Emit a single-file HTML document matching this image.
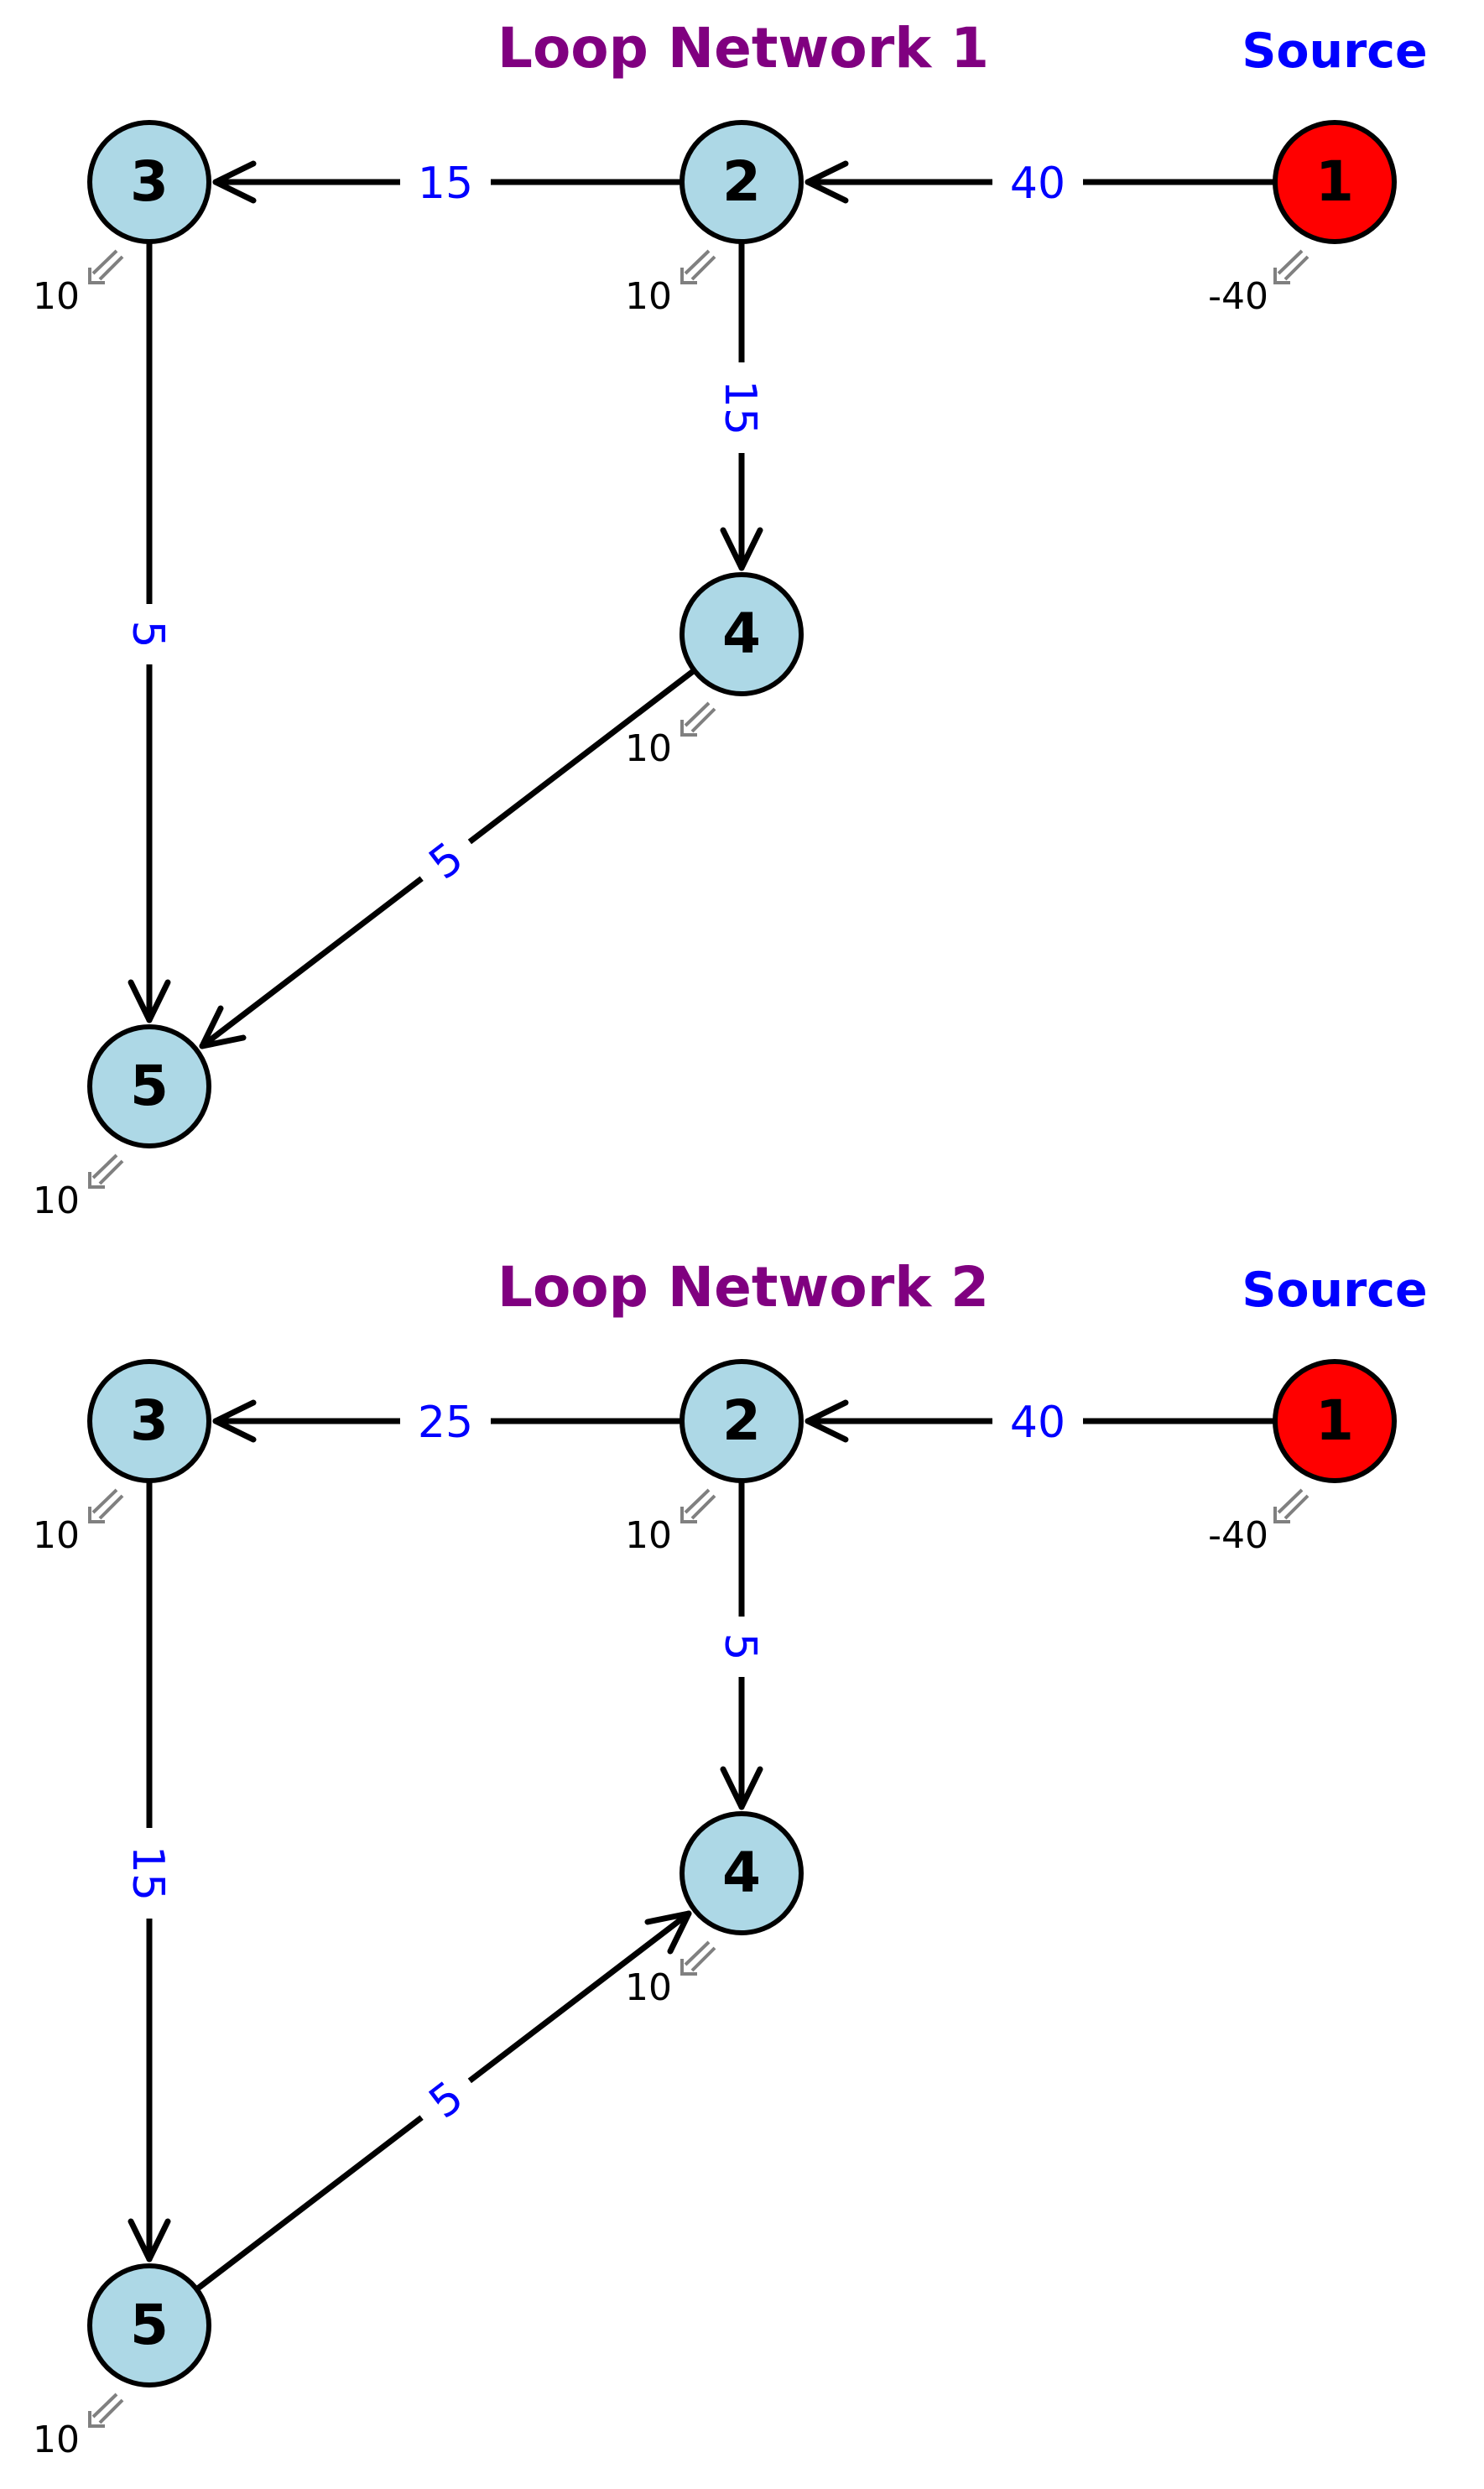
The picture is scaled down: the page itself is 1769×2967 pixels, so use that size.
<!DOCTYPE html>
<html><head><meta charset="utf-8"><style>html,body{margin:0;padding:0;background:#fff}svg{display:block}</style></head>
<body>
<svg width="1769" height="2967" viewBox="0 0 1769 2967" xmlns="http://www.w3.org/2000/svg" font-family="DejaVu Sans, Liberation Sans, sans-serif">
<defs>
<g id="sup" stroke="#808080" stroke-width="4" fill="none">
<line x1="-39" y1="82" x2="-67" y2="109"/>
<line x1="-32" y1="89" x2="-59" y2="116"/>
<polyline points="-71,102 -71,120 -53,120"/>
</g>
<g id="net">
<g stroke="#000" stroke-width="6">
<circle cx="178" cy="217" r="71" fill="#add8e6"/>
<circle cx="884" cy="217" r="71" fill="#add8e6"/>
<circle cx="1591" cy="217" r="71" fill="#ff0000"/>
<circle cx="884" cy="756" r="71" fill="#add8e6"/>
<circle cx="178" cy="1295" r="71" fill="#add8e6"/>
</g>
<g font-size="66" font-weight="bold" text-anchor="middle" fill="#000">
<text x="178" y="239">3</text><text x="884" y="239">2</text><text x="1591" y="239">1</text>
<text x="884" y="778">4</text><text x="178" y="1317">5</text>
</g>
<use href="#sup" x="178" y="217"/><use href="#sup" x="884" y="217"/><use href="#sup" x="1591" y="217"/>
<use href="#sup" x="884" y="756"/><use href="#sup" x="178" y="1295"/>
<g font-size="44" text-anchor="end" fill="#000">
<text x="95" y="368">10</text><text x="801" y="368">10</text><text x="1512" y="368">-40</text>
<text x="801" y="907">10</text><text x="95" y="1446">10</text>
</g>
<text x="1591" y="80" font-size="57" font-weight="bold" fill="#0000ff" text-anchor="middle">Source</text>
</g>
</defs>

<g>
<g stroke="#000" stroke-width="7" fill="none" stroke-linecap="round" stroke-linejoin="round">
<line x1="1591" y1="217" x2="963" y2="217"/><polyline points="1008,195 963,217 1008,239"/>
<line x1="884" y1="217" x2="257" y2="217"/><polyline points="302,195 257,217 302,239"/>
<line x1="884" y1="217" x2="884" y2="677"/><polyline points="862,632 884,677 906,632"/>
<line x1="178" y1="217" x2="178" y2="1216"/><polyline points="156,1171 178,1216 200,1171"/>
<line x1="884" y1="756" x2="241" y2="1247"/><polyline points="290,1237 241,1247 263,1202"/>
</g>
<g font-size="52" fill="#0000ff" text-anchor="middle">
<rect x="1183" y="183" width="108" height="68" fill="#fff"/><text x="1237" y="236">40</text>
<rect x="477" y="183" width="108" height="68" fill="#fff"/><text x="531" y="236">15</text>
<g transform="translate(884,486) rotate(90)"><rect x="-54" y="-34" width="108" height="68" fill="#fff"/><text x="0" y="19">15</text></g>
<g transform="translate(178,756) rotate(90)"><rect x="-36" y="-34" width="72" height="68" fill="#fff"/><text x="0" y="19">5</text></g>
<g transform="translate(531,1025) rotate(-37.4)"><rect x="-36" y="-34" width="72" height="68" fill="#fff"/><text x="0" y="19">5</text></g>
</g>
<text x="886" y="80" font-size="66" font-weight="bold" fill="#800080" text-anchor="middle">Loop Network 1</text>
<use href="#net"/>
</g>

<g transform="translate(0,1477)">
<g stroke="#000" stroke-width="7" fill="none" stroke-linecap="round" stroke-linejoin="round">
<line x1="1591" y1="217" x2="963" y2="217"/><polyline points="1008,195 963,217 1008,239"/>
<line x1="884" y1="217" x2="257" y2="217"/><polyline points="302,195 257,217 302,239"/>
<line x1="884" y1="217" x2="884" y2="677"/><polyline points="862,632 884,677 906,632"/>
<line x1="178" y1="217" x2="178" y2="1216"/><polyline points="156,1171 178,1216 200,1171"/>
<line x1="178" y1="1295" x2="821" y2="804"/><polyline points="772,814 821,804 799,849"/>
</g>
<g font-size="52" fill="#0000ff" text-anchor="middle">
<rect x="1183" y="183" width="108" height="68" fill="#fff"/><text x="1237" y="236">40</text>
<rect x="477" y="183" width="108" height="68" fill="#fff"/><text x="531" y="236">25</text>
<g transform="translate(884,486) rotate(90)"><rect x="-36" y="-34" width="72" height="68" fill="#fff"/><text x="0" y="19">5</text></g>
<g transform="translate(178,756) rotate(90)"><rect x="-54" y="-34" width="108" height="68" fill="#fff"/><text x="0" y="19">15</text></g>
<g transform="translate(531,1025) rotate(-37.4)"><rect x="-36" y="-34" width="72" height="68" fill="#fff"/><text x="0" y="19">5</text></g>
</g>
<text x="886" y="80" font-size="66" font-weight="bold" fill="#800080" text-anchor="middle">Loop Network 2</text>
<use href="#net"/>
</g>
</svg>
</body></html>
